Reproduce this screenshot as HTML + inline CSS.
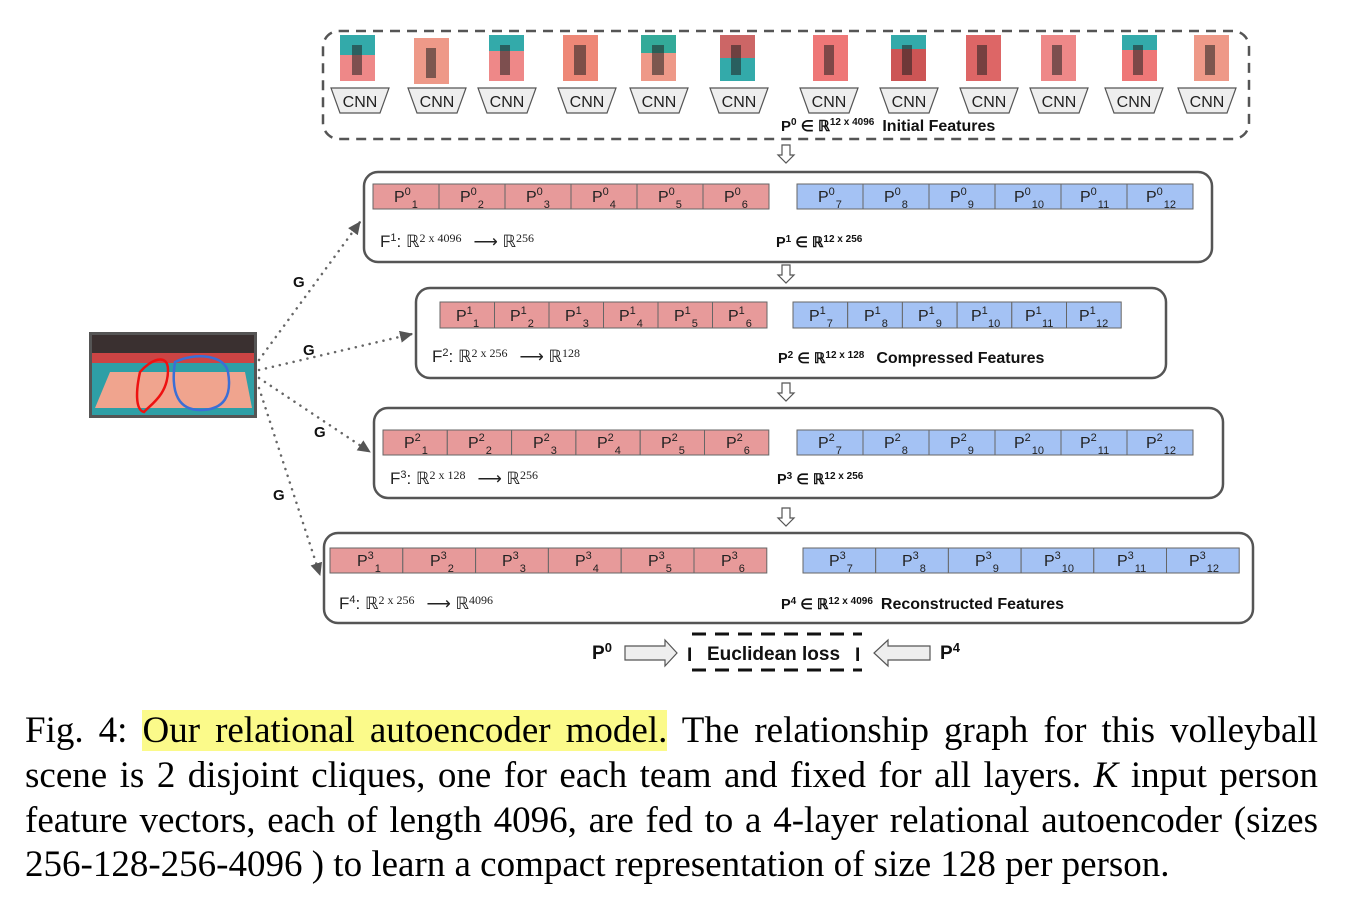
<!DOCTYPE html>
<html><head><meta charset="utf-8"><style>
body{margin:0;background:#fff;width:1361px;height:901px;overflow:hidden;position:relative}
svg{position:absolute;left:0;top:0}
.cap{position:absolute;left:25px;width:1293px;font-family:"Liberation Serif",serif;font-size:37px;line-height:45px;text-align:justify;text-align-last:justify;white-space:nowrap;color:#000}
.hl{background:#fbfa8a}
</style></head><body>
<svg width="1361" height="901" viewBox="0 0 1361 901" font-family="Liberation Sans, sans-serif">
<defs>
<marker id="ah2" markerWidth="14" markerHeight="12" refX="12" refY="6" orient="auto" markerUnits="userSpaceOnUse"><path d="M0,0 L13,6 L0,12z" fill="#555"/></marker>
<g id="cnn"><path d="M-29,0 L29,0 L20,25 L-20,25z" fill="#eee" stroke="#555" stroke-width="1.2"/><text x="0" y="19" font-size="16" text-anchor="middle" fill="#222">CNN</text></g>
<g id="dn"><path d="M-4,0 L4,0 L4,10 L8,10 L0,18 L-8,10 L-4,10z" fill="#fff" stroke="#555" stroke-width="1.2"/></g>
</defs>
<rect x="323" y="31" width="926" height="108" rx="16" fill="none" stroke="#555" stroke-width="2.5" stroke-dasharray="10,7"/>
<g>
<rect x="340" y="35" width="35" height="46" fill="#e88"/><rect x="340" y="35" width="35" height="20" fill="#3aa"/>
<rect x="414" y="38" width="35" height="46" fill="#e98"/>
<rect x="489" y="35" width="35" height="46" fill="#e88"/><rect x="489" y="35" width="35" height="16" fill="#3aa"/>
<rect x="563" y="35" width="35" height="46" fill="#e87"/>
<rect x="641" y="35" width="35" height="46" fill="#e98"/><rect x="641" y="35" width="35" height="18" fill="#3a9"/>
<rect x="720" y="35" width="35" height="46" fill="#c66"/><rect x="720" y="58" width="35" height="23" fill="#3aa"/>
<rect x="813" y="35" width="35" height="46" fill="#e77"/>
<rect x="891" y="35" width="35" height="46" fill="#c55"/><rect x="891" y="35" width="35" height="14" fill="#3aa"/>
<rect x="966" y="35" width="35" height="46" fill="#d66"/>
<rect x="1041" y="35" width="35" height="46" fill="#e88"/>
<rect x="1122" y="35" width="35" height="46" fill="#e77"/><rect x="1122" y="35" width="35" height="15" fill="#3aa"/>
<rect x="1194" y="35" width="35" height="46" fill="#e98"/>
<g fill="#222" opacity="0.55">
<rect x="352" y="45" width="10" height="30"/><rect x="426" y="48" width="10" height="30"/><rect x="500" y="45" width="10" height="30"/><rect x="574" y="45" width="12" height="30"/><rect x="652" y="45" width="12" height="30"/><rect x="731" y="45" width="10" height="30"/><rect x="824" y="45" width="10" height="30"/><rect x="902" y="45" width="10" height="30"/><rect x="977" y="45" width="10" height="30"/><rect x="1052" y="45" width="10" height="30"/><rect x="1133" y="45" width="10" height="30"/><rect x="1205" y="45" width="10" height="30"/>
</g>
</g>
<use href="#cnn" x="360" y="88"/><use href="#cnn" x="437" y="88"/><use href="#cnn" x="507" y="88"/><use href="#cnn" x="587" y="88"/><use href="#cnn" x="659" y="88"/><use href="#cnn" x="739" y="88"/><use href="#cnn" x="829" y="88"/><use href="#cnn" x="909" y="88"/><use href="#cnn" x="989" y="88"/><use href="#cnn" x="1059" y="88"/><use href="#cnn" x="1134" y="88"/><use href="#cnn" x="1207" y="88"/>
<text x="781" y="131" font-size="15" font-weight="bold" fill="#111">P<tspan font-size="10" dy="-6">0</tspan><tspan dy="6"> ∈ ℝ</tspan><tspan font-size="10" dy="-6">12 x 4096</tspan><tspan dy="6" dx="8" font-size="16">Initial Features</tspan></text>
<use href="#dn" x="786" y="145"/><use href="#dn" x="786" y="265"/><use href="#dn" x="786" y="383"/><use href="#dn" x="786" y="508"/>

<g fill="none" stroke="#555" stroke-width="2.5">
<rect x="364" y="172" width="848" height="90" rx="14"/>
<rect x="416" y="288" width="750" height="90" rx="14"/>
<rect x="374" y="408" width="849" height="90" rx="14"/>
<rect x="324" y="533" width="929" height="90" rx="14"/>
</g>
<g font-size="14" fill="#222" stroke="#666" stroke-width="1">
<g fill="#e79a9a"><rect x="373" y="184" width="66" height="25"/><rect x="439" y="184" width="66" height="25"/><rect x="505" y="184" width="66" height="25"/><rect x="571" y="184" width="66" height="25"/><rect x="637" y="184" width="66" height="25"/><rect x="703" y="184" width="66" height="25"/></g>
<g fill="#a4c2f4"><rect x="797" y="184" width="66" height="25"/><rect x="863" y="184" width="66" height="25"/><rect x="929" y="184" width="66" height="25"/><rect x="995" y="184" width="66" height="25"/><rect x="1061" y="184" width="66" height="25"/><rect x="1127" y="184" width="66" height="25"/></g>
<g fill="#e79a9a"><rect x="440" y="302" width="54.5" height="26"/><rect x="494.5" y="302" width="54.5" height="26"/><rect x="549" y="302" width="54.5" height="26"/><rect x="603.5" y="302" width="54.5" height="26"/><rect x="658" y="302" width="54.5" height="26"/><rect x="712.5" y="302" width="54.5" height="26"/></g>
<g fill="#a4c2f4"><rect x="793" y="302" width="54.7" height="26"/><rect x="847.7" y="302" width="54.7" height="26"/><rect x="902.4" y="302" width="54.7" height="26"/><rect x="957.1" y="302" width="54.7" height="26"/><rect x="1011.8" y="302" width="54.7" height="26"/><rect x="1066.5" y="302" width="54.7" height="26"/></g>
<g fill="#e79a9a"><rect x="383" y="430" width="64.3" height="25"/><rect x="447.3" y="430" width="64.3" height="25"/><rect x="511.6" y="430" width="64.3" height="25"/><rect x="575.9" y="430" width="64.3" height="25"/><rect x="640.2" y="430" width="64.3" height="25"/><rect x="704.5" y="430" width="64.3" height="25"/></g>
<g fill="#a4c2f4"><rect x="797" y="430" width="66" height="25"/><rect x="863" y="430" width="66" height="25"/><rect x="929" y="430" width="66" height="25"/><rect x="995" y="430" width="66" height="25"/><rect x="1061" y="430" width="66" height="25"/><rect x="1127" y="430" width="66" height="25"/></g>
<g fill="#e79a9a"><rect x="330" y="548" width="72.8" height="25"/><rect x="402.8" y="548" width="72.8" height="25"/><rect x="475.6" y="548" width="72.8" height="25"/><rect x="548.4" y="548" width="72.8" height="25"/><rect x="621.2" y="548" width="72.8" height="25"/><rect x="694" y="548" width="72.8" height="25"/></g>
<g fill="#a4c2f4"><rect x="803" y="548" width="72.7" height="25"/><rect x="875.7" y="548" width="72.7" height="25"/><rect x="948.4" y="548" width="72.7" height="25"/><rect x="1021.1" y="548" width="72.7" height="25"/><rect x="1093.8" y="548" width="72.7" height="25"/><rect x="1166.5" y="548" width="72.7" height="25"/></g>
</g>
<g font-size="16" fill="#222">
<text x="394" y="202">P<tspan font-size="11" dy="-7">0</tspan><tspan font-size="11" dy="13" dx="1">1</tspan></text>
<text x="460" y="202">P<tspan font-size="11" dy="-7">0</tspan><tspan font-size="11" dy="13" dx="1">2</tspan></text>
<text x="526" y="202">P<tspan font-size="11" dy="-7">0</tspan><tspan font-size="11" dy="13" dx="1">3</tspan></text>
<text x="592" y="202">P<tspan font-size="11" dy="-7">0</tspan><tspan font-size="11" dy="13" dx="1">4</tspan></text>
<text x="658" y="202">P<tspan font-size="11" dy="-7">0</tspan><tspan font-size="11" dy="13" dx="1">5</tspan></text>
<text x="724" y="202">P<tspan font-size="11" dy="-7">0</tspan><tspan font-size="11" dy="13" dx="1">6</tspan></text>
<text x="818" y="202">P<tspan font-size="11" dy="-7">0</tspan><tspan font-size="11" dy="13" dx="1">7</tspan></text>
<text x="884" y="202">P<tspan font-size="11" dy="-7">0</tspan><tspan font-size="11" dy="13" dx="1">8</tspan></text>
<text x="950" y="202">P<tspan font-size="11" dy="-7">0</tspan><tspan font-size="11" dy="13" dx="1">9</tspan></text>
<text x="1014" y="202">P<tspan font-size="11" dy="-7">0</tspan><tspan font-size="11" dy="13" dx="1">10</tspan></text>
<text x="1080" y="202">P<tspan font-size="11" dy="-7">0</tspan><tspan font-size="11" dy="13" dx="1">11</tspan></text>
<text x="1146" y="202">P<tspan font-size="11" dy="-7">0</tspan><tspan font-size="11" dy="13" dx="1">12</tspan></text>
<text x="456" y="321">P<tspan font-size="11" dy="-7">1</tspan><tspan font-size="11" dy="13" dx="1">1</tspan></text>
<text x="510" y="321">P<tspan font-size="11" dy="-7">1</tspan><tspan font-size="11" dy="13" dx="1">2</tspan></text>
<text x="565" y="321">P<tspan font-size="11" dy="-7">1</tspan><tspan font-size="11" dy="13" dx="1">3</tspan></text>
<text x="619" y="321">P<tspan font-size="11" dy="-7">1</tspan><tspan font-size="11" dy="13" dx="1">4</tspan></text>
<text x="674" y="321">P<tspan font-size="11" dy="-7">1</tspan><tspan font-size="11" dy="13" dx="1">5</tspan></text>
<text x="728" y="321">P<tspan font-size="11" dy="-7">1</tspan><tspan font-size="11" dy="13" dx="1">6</tspan></text>
<text x="809" y="321">P<tspan font-size="11" dy="-7">1</tspan><tspan font-size="11" dy="13" dx="1">7</tspan></text>
<text x="864" y="321">P<tspan font-size="11" dy="-7">1</tspan><tspan font-size="11" dy="13" dx="1">8</tspan></text>
<text x="918" y="321">P<tspan font-size="11" dy="-7">1</tspan><tspan font-size="11" dy="13" dx="1">9</tspan></text>
<text x="971" y="321">P<tspan font-size="11" dy="-7">1</tspan><tspan font-size="11" dy="13" dx="1">10</tspan></text>
<text x="1025" y="321">P<tspan font-size="11" dy="-7">1</tspan><tspan font-size="11" dy="13" dx="1">11</tspan></text>
<text x="1079" y="321">P<tspan font-size="11" dy="-7">1</tspan><tspan font-size="11" dy="13" dx="1">12</tspan></text>
<text x="404" y="448">P<tspan font-size="11" dy="-7">2</tspan><tspan font-size="11" dy="13" dx="1">1</tspan></text>
<text x="468" y="448">P<tspan font-size="11" dy="-7">2</tspan><tspan font-size="11" dy="13" dx="1">2</tspan></text>
<text x="533" y="448">P<tspan font-size="11" dy="-7">2</tspan><tspan font-size="11" dy="13" dx="1">3</tspan></text>
<text x="597" y="448">P<tspan font-size="11" dy="-7">2</tspan><tspan font-size="11" dy="13" dx="1">4</tspan></text>
<text x="661" y="448">P<tspan font-size="11" dy="-7">2</tspan><tspan font-size="11" dy="13" dx="1">5</tspan></text>
<text x="726" y="448">P<tspan font-size="11" dy="-7">2</tspan><tspan font-size="11" dy="13" dx="1">6</tspan></text>
<text x="818" y="448">P<tspan font-size="11" dy="-7">2</tspan><tspan font-size="11" dy="13" dx="1">7</tspan></text>
<text x="884" y="448">P<tspan font-size="11" dy="-7">2</tspan><tspan font-size="11" dy="13" dx="1">8</tspan></text>
<text x="950" y="448">P<tspan font-size="11" dy="-7">2</tspan><tspan font-size="11" dy="13" dx="1">9</tspan></text>
<text x="1014" y="448">P<tspan font-size="11" dy="-7">2</tspan><tspan font-size="11" dy="13" dx="1">10</tspan></text>
<text x="1080" y="448">P<tspan font-size="11" dy="-7">2</tspan><tspan font-size="11" dy="13" dx="1">11</tspan></text>
<text x="1146" y="448">P<tspan font-size="11" dy="-7">2</tspan><tspan font-size="11" dy="13" dx="1">12</tspan></text>
<text x="357" y="566">P<tspan font-size="11" dy="-7">3</tspan><tspan font-size="11" dy="13" dx="1">1</tspan></text>
<text x="430" y="566">P<tspan font-size="11" dy="-7">3</tspan><tspan font-size="11" dy="13" dx="1">2</tspan></text>
<text x="502" y="566">P<tspan font-size="11" dy="-7">3</tspan><tspan font-size="11" dy="13" dx="1">3</tspan></text>
<text x="575" y="566">P<tspan font-size="11" dy="-7">3</tspan><tspan font-size="11" dy="13" dx="1">4</tspan></text>
<text x="648" y="566">P<tspan font-size="11" dy="-7">3</tspan><tspan font-size="11" dy="13" dx="1">5</tspan></text>
<text x="721" y="566">P<tspan font-size="11" dy="-7">3</tspan><tspan font-size="11" dy="13" dx="1">6</tspan></text>
<text x="829" y="566">P<tspan font-size="11" dy="-7">3</tspan><tspan font-size="11" dy="13" dx="1">7</tspan></text>
<text x="902" y="566">P<tspan font-size="11" dy="-7">3</tspan><tspan font-size="11" dy="13" dx="1">8</tspan></text>
<text x="975" y="566">P<tspan font-size="11" dy="-7">3</tspan><tspan font-size="11" dy="13" dx="1">9</tspan></text>
<text x="1044" y="566">P<tspan font-size="11" dy="-7">3</tspan><tspan font-size="11" dy="13" dx="1">10</tspan></text>
<text x="1117" y="566">P<tspan font-size="11" dy="-7">3</tspan><tspan font-size="11" dy="13" dx="1">11</tspan></text>
<text x="1189" y="566">P<tspan font-size="11" dy="-7">3</tspan><tspan font-size="11" dy="13" dx="1">12</tspan></text>
</g>
<g fill="#222" font-size="17">
<text x="380" y="247">F<tspan font-size="11" dy="-6">1</tspan><tspan dy="6">:  ℝ</tspan><tspan font-family="Liberation Serif, serif" font-size="12" dy="-5">2 x 4096</tspan><tspan dy="5" dx="12">⟶  ℝ</tspan><tspan font-family="Liberation Serif, serif" font-size="12" dy="-5">256</tspan></text>
<text x="432" y="362">F<tspan font-size="11" dy="-6">2</tspan><tspan dy="6">:  ℝ</tspan><tspan font-family="Liberation Serif, serif" font-size="12" dy="-5">2 x 256</tspan><tspan dy="5" dx="12">⟶  ℝ</tspan><tspan font-family="Liberation Serif, serif" font-size="12" dy="-5">128</tspan></text>
<text x="390" y="484">F<tspan font-size="11" dy="-6">3</tspan><tspan dy="6">:  ℝ</tspan><tspan font-family="Liberation Serif, serif" font-size="12" dy="-5">2 x 128</tspan><tspan dy="5" dx="12">⟶  ℝ</tspan><tspan font-family="Liberation Serif, serif" font-size="12" dy="-5">256</tspan></text>
<text x="339" y="609">F<tspan font-size="11" dy="-6">4</tspan><tspan dy="6">:  ℝ</tspan><tspan font-family="Liberation Serif, serif" font-size="12" dy="-5">2 x 256</tspan><tspan dy="5" dx="12">⟶  ℝ</tspan><tspan font-family="Liberation Serif, serif" font-size="12" dy="-5">4096</tspan></text>
</g>
<g fill="#111" font-weight="bold" font-size="14.5">
<text x="776" y="247">P<tspan font-size="10" dy="-5">1</tspan><tspan dy="5"> ∈ ℝ</tspan><tspan font-size="10" dy="-5">12 x 256</tspan></text>
<text x="778" y="363">P<tspan font-size="10" dy="-5">2</tspan><tspan dy="5"> ∈ ℝ</tspan><tspan font-size="10" dy="-5">12 x 128</tspan><tspan dy="5" dx="12" font-size="16">Compressed Features</tspan></text>
<text x="777" y="484">P<tspan font-size="10" dy="-5">3</tspan><tspan dy="5"> ∈ ℝ</tspan><tspan font-size="10" dy="-5">12 x 256</tspan></text>
<text x="781" y="609">P<tspan font-size="10" dy="-5">4</tspan><tspan dy="5"> ∈ ℝ</tspan><tspan font-size="10" dy="-5">12 x 4096</tspan><tspan dy="5" dx="8" font-size="16">Reconstructed Features</tspan></text>
</g>
<rect x="89" y="332" width="168" height="86" fill="#555"/>
<rect x="92" y="335" width="162" height="80" fill="#2e9fa6"/>
<rect x="92" y="335" width="162" height="18" fill="#3a3030"/>
<rect x="92" y="353" width="162" height="10" fill="#c44"/>
<path d="M110,372 L245,372 L252,408 L95,408z" fill="#f0a48e"/>
<path d="M140,372 C150,360 168,352 168,370 C168,395 150,405 144,412 C135,410 136,390 140,372z" fill="none" stroke="#e11" stroke-width="2.5"/>
<path d="M175,362 C195,352 225,355 228,372 C232,395 225,410 200,410 C180,410 170,395 175,362z" fill="none" stroke="#3b6fd6" stroke-width="2.5"/>
<g stroke="#666" stroke-width="2.5" stroke-dasharray="0.1,7" stroke-linecap="round" fill="none">
<path d="M259,360 L360,222" marker-end="url(#ah2)"/>
<path d="M259,370 L412,334" marker-end="url(#ah2)"/>
<path d="M259,378 L370,452" marker-end="url(#ah2)"/>
<path d="M259,388 L320,575" marker-end="url(#ah2)"/>
</g>
<g font-size="15" font-weight="bold" fill="#111">
<text x="293" y="287">G</text><text x="303" y="355">G</text><text x="314" y="437">G</text><text x="273" y="500">G</text>
</g>
<text x="592" y="659" font-size="19" font-weight="bold" fill="#111">P<tspan font-size="13" dy="-7">0</tspan></text>
<path d="M625,646 L665,646 L665,640 L677,653 L665,666 L665,660 L625,660z" fill="#eee" stroke="#555" stroke-width="1.2"/>
<line x1="692" y1="634" x2="862" y2="634" stroke="#111" stroke-width="3" stroke-dasharray="14,9"/>
<line x1="692" y1="670" x2="862" y2="670" stroke="#111" stroke-width="3" stroke-dasharray="14,9"/>
<text x="687" y="661" font-size="19" font-weight="bold" fill="#111">I</text>
<text x="707" y="660" font-size="19" font-weight="bold" fill="#111">Euclidean loss</text>
<text x="855" y="661" font-size="19" font-weight="bold" fill="#111">I</text>
<path d="M930,646 L888,646 L888,640 L874,653 L888,666 L888,660 L930,660z" fill="#eee" stroke="#555" stroke-width="1.2"/>
<text x="940" y="659" font-size="19" font-weight="bold" fill="#111">P<tspan font-size="13" dy="-7">4</tspan></text>
</svg>
<div class="cap" style="top:708px">Fig. 4: <span class="hl">Our relational autoencoder model.</span> The relationship graph for this volleyball</div>
<div class="cap" style="top:753px">scene is 2 disjoint cliques, one for each team and fixed for all layers. <i>K</i> input person</div>
<div class="cap" style="top:798px">feature vectors, each of length 4096, are fed to a 4-layer relational autoencoder (sizes</div>
<div class="cap" style="top:842px;text-align-last:left;width:auto">256-128-256-4096 ) to learn a compact representation of size 128 per person.</div>
</body></html>
